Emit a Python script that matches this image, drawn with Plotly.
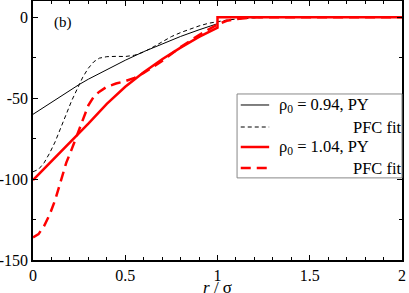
import plotly.graph_objects as go

# ---- data ----
x_py094 = [0, 0.1, 0.2, 0.25, 0.3, 0.4, 0.5, 0.6, 0.7, 0.8, 0.9, 1.0, 1.0, 2.0]
y_py094 = [-60, -52.5, -45.3, -41.6, -38.3, -32.3, -26.6, -21.3, -16.4, -11.9, -7.8, -4.0, 0, 0]

x_pfc094 = [0, 0.03, 0.06, 0.09, 0.12, 0.15, 0.18, 0.21, 0.24, 0.27, 0.3, 0.33, 0.36, 0.4,
            0.45, 0.5, 0.55, 0.6, 0.65, 0.7, 0.75, 0.8, 0.85, 0.9, 0.95, 1.0, 1.05, 1.1,
            1.15, 1.2, 1.3, 2.0]
y_pfc094 = [-95.5, -94, -90, -84, -77, -69, -60, -51.5, -44, -37, -31.5, -27.5, -25.3, -24.4,
            -24.2, -24.3, -23.5, -21.5, -18.5, -15.2, -12, -9.5, -7.3, -5.4, -3.8, -2.6, -1.8, -1.2,
            -0.7, -0.4, 0, 0]

x_py104 = [0, 0.1, 0.2, 0.24, 0.3, 0.4, 0.5, 0.6, 0.7, 0.8, 0.9, 1.0, 1.0, 2.0]
y_py104 = [-100.6, -89, -77.5, -72.8, -65.8, -53.6, -43, -34, -26, -18.8, -12.2, -6.5, 0, 0]

x_pfc104 = [0, 0.03, 0.06, 0.09, 0.12, 0.15, 0.18, 0.21, 0.24, 0.27, 0.3, 0.33, 0.36, 0.4,
            0.45, 0.5, 0.55, 0.6, 0.7, 0.8, 0.9, 1.0, 1.05, 1.1, 1.15, 1.2, 2.0]
y_pfc104 = [-136, -134, -129, -122, -113, -102, -90, -81.5, -72.5, -62.5, -54.5, -49, -46, -43,
            -41, -39.5, -37.5, -34.5, -27, -18.5, -11, -4.5, -2.2, -1.2, -0.5, 0, 0]

y_tickvals = [-150, -100, -50, 0]
y_ticktext = ["-150", "-100", "-50", "0"]
x_tickvals = [0, 0.5, 1, 1.5, 2]
x_ticktext = ["0", "0.5", "1", "1.5", "2"]

legend_labels = ["ρ<sub>0</sub> = 0.94, PY", "PFC fit", "ρ<sub>0</sub> = 1.04, PY", "PFC fit"]

FONT = "Liberation Serif"

styles = [
    dict(color="black", width=1),
    dict(color="black", width=1, dash="4px,3px"),
    dict(color="#ff0000", width=2.5),
    dict(color="#ff0000", width=2.5, dash="10px,6px"),
]
series = [(x_py094, y_py094), (x_pfc094, y_pfc094), (x_py104, y_py104), (x_pfc104, y_pfc104)]

fig = go.Figure()
for (xs, ys), st, lab in zip(series, styles, legend_labels):
    fig.add_trace(go.Scatter(x=xs, y=ys, mode="lines", line=st, name=lab, showlegend=False))

axis_common = dict(showline=True, linecolor="black", linewidth=1.5, mirror="allticks",
                   ticks="inside", ticklen=5, tickcolor="black", tickwidth=1,
                   showgrid=False, zeroline=False, automargin=False,
                   tickfont=dict(family=FONT, size=16, color="black"))

fig.update_xaxes(range=[0, 2], tickvals=x_tickvals, ticktext=x_ticktext,
                 minor=dict(dtick=0.1, ticks="inside", ticklen=3, tickcolor="black", showgrid=False),
                 **axis_common)
fig.update_yaxes(range=[-150, 10], tickvals=y_tickvals, ticktext=y_ticktext,
                 minor=dict(dtick=25, ticks="inside", ticklen=3, tickcolor="black", showgrid=False),
                 **axis_common)

# axis title
fig.add_annotation(x=0.501, y=-0.106, xref="paper", yref="paper", text="<i>r</i> / σ",
                   showarrow=False, xanchor="center", yanchor="middle", borderpad=0,
                   font=dict(family=FONT, size=17, color="black"))

# panel label
fig.add_annotation(x=0.105, y=-3, xref="x", yref="y", text="(b)", showarrow=False,
                   xanchor="left", yanchor="middle",
                   font=dict(family=FONT, size=15, color="black"))

# manual legend (box, samples, labels) in paper coordinates
fig.add_shape(type="rect", xref="paper", yref="paper", x0=0.553, x1=1.0, y0=0.317, y1=0.641,
              line=dict(color="#888888", width=1), fillcolor="white", layer="above")
row_y = [0.5985, 0.5135, 0.4363, 0.3552]
text_x = [0.66, 0.862, 0.66, 0.862]
for ry, tx, st, lab in zip(row_y, text_x, styles, legend_labels):
    fig.add_shape(type="line", xref="paper", yref="paper", x0=0.563, x1=0.64, y0=ry, y1=ry,
                  line=st, layer="above")
    fig.add_annotation(x=tx, y=ry, xref="paper", yref="paper", text=lab, showarrow=False,
                       xanchor="left", yanchor="middle",
                       font=dict(family=FONT, size=16.5, color="black"))

fig.update_layout(
    width=409, height=293,
    margin=dict(l=33, r=7, t=1, b=33),
    paper_bgcolor="white", plot_bgcolor="white",
    showlegend=False,
)

fig.write_html("out.html", config={"displayModeBar": False},
               post_script="document.body.style.margin='0px';document.body.style.overflow='hidden';")
